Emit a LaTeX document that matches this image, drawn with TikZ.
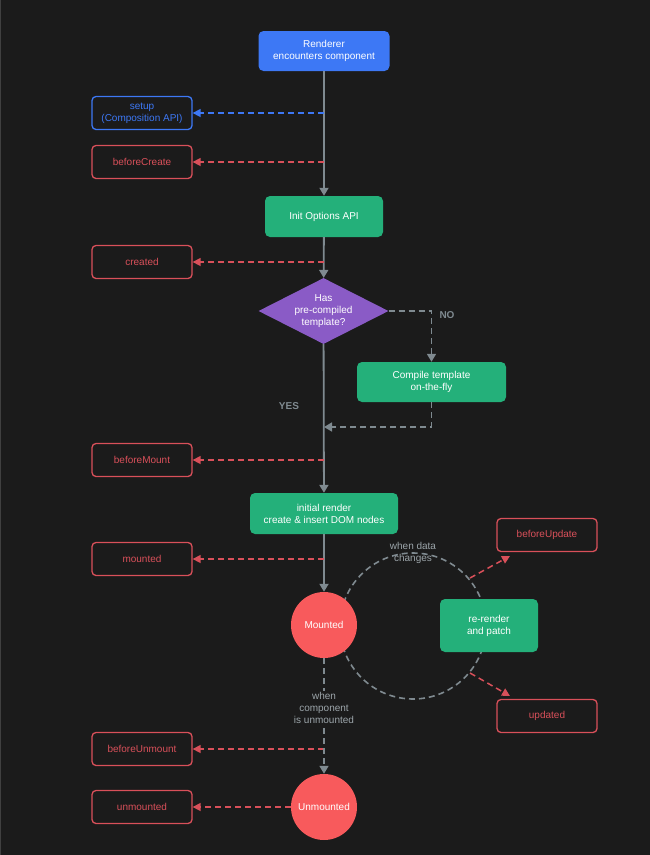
\documentclass[tikz,border=0pt]{standalone}
\usepackage{fontspec}
\setmainfont{Liberation Sans}
\usetikzlibrary{shapes.geometric,arrows.meta}
\definecolor{bg}{HTML}{1B1B1B}
\definecolor{lineg}{HTML}{7F8A90}
\definecolor{labelg}{HTML}{9CA5AA}
\definecolor{hookred}{HTML}{D9505A}
\definecolor{cred}{HTML}{F85A5C}
\definecolor{vgreen}{HTML}{24B07A}
\definecolor{vblue}{HTML}{3D78F5}
\definecolor{vpurple}{HTML}{8A5BC6}
\begin{document}
\begin{tikzpicture}[x=1pt,y=-1pt,
  every node/.style={font=\fontsize{10}{12}\selectfont, align=center},
  hook/.style={draw=hookred, line width=1.3pt, rounded corners=4pt, minimum width=100pt, minimum height=33pt, text=hookred, inner sep=0pt, fill=bg},
  proc/.style={fill=vgreen, rounded corners=5pt, text=white, inner sep=0pt},
  hcirc/.style={circle, fill=cred, minimum size=66pt, inner sep=0pt, text=white},
  mainline/.style={draw=lineg, line width=1.8pt},
  gtip/.style={-{Triangle[width=9pt,length=8pt]}},
  rtip/.style={-{Triangle[width=8pt,length=8pt]}},
  graydash/.style={draw=lineg, line width=1.6pt, dash pattern=on 6pt off 4pt},
  hookarrow/.style={draw=hookred, line width=1.5pt, dash pattern=on 6pt off 4pt, rtip},
  bluearrow/.style={draw=vblue, line width=1.5pt, dash pattern=on 6pt off 4pt, rtip},
  yesno/.style={text=lineg, font=\fontsize{10}{12}\selectfont\bfseries}
]
\fill[bg] (0,0) rectangle (650,855);
\useasboundingbox (0,0) rectangle (650,855);
\draw[line width=0.8pt, draw=black!75!white] (0.4,0) -- (0.4,855);

% update loop circle (drawn first, behind nodes)
\coordinate (loopc) at (413,626);
\draw[graydash] (loopc) circle (73pt);
\node[text=labelg] (whendata) at (413,552.5) {when data\\changes};

% nodes
\node[proc, fill=vblue, minimum width=131pt, minimum height=40pt] (renderer) at (324,51) {Renderer\\encounters component};
\node[hook, draw=vblue, text=vblue] (setup) at (142,113) {setup\\(Composition API)};
\node[hook] (bc) at (142,162) {beforeCreate};
\node[proc, minimum width=118pt, minimum height=41pt] (init) at (324,216.5) {Init Options API};
\node[hook] (created) at (142,262) {created};
\node[diamond, fill=vpurple, text=white, inner sep=0pt, aspect=1.97, minimum width=130pt, minimum height=66pt] (dec) at (323.5,311) {Has\\pre-compiled\\template?};
\node[proc, minimum width=149pt, minimum height=40pt] (compile) at (431.5,382) {Compile template\\on-the-fly};
\node[hook] (bm) at (142,460) {beforeMount};
\node[proc, minimum width=148pt, minimum height=41pt] (render) at (324,513.5) {initial render\\create \& insert DOM nodes};
\node[hook] (mounted) at (142,559) {mounted};
\node[hcirc] (mc) at (324,625) {Mounted};
\node[proc, minimum width=98pt, minimum height=53pt] (patch) at (489,625.5) {re-render\\and patch};
\node[hook] (bu) at (547,535) {beforeUpdate};
\node[hook] (upd) at (547,716) {updated};
\node[hook] (bum) at (142,749) {beforeUnmount};
\node[hcirc] (umc) at (324,807) {Unmounted};
\node[hook] (um) at (142,807) {unmounted};

% labels
\node[yesno] (no) at (447,315) {NO};
\node[yesno] (yes) at (289,406) {YES};

% coordinates on main line
\coordinate (h1) at (324,113);
\coordinate (h2) at (324,162);
\coordinate (h3) at (324,262);
\coordinate (h4) at (324,460);
\coordinate (h5) at (324,559);
\coordinate (h6) at (324,749);
\coordinate (join) at (324,427);

% main flow
\draw[mainline, gtip] (renderer) -- (init);
\draw[mainline, gtip] (init) -- (dec);
\draw[mainline, gtip] (dec) -- (render);
\draw[mainline, gtip] (render) -- (mc);

% NO branch
\draw[graydash, gtip] (dec.east) -| (compile.north);
\draw[graydash, gtip] (compile.south) |- (join);

% hooks
\draw[bluearrow] (h1) -- (setup);
\draw[hookarrow] (h2) -- (bc);
\draw[hookarrow] (h3) -- (created);
\draw[hookarrow] (h4) -- (bm);
\draw[hookarrow] (h5) -- (mounted);
\draw[hookarrow] (h6) -- (bum);
\draw[hookarrow] (umc) -- (um);

% update hooks
\coordinate (u1) at (470,578);
\coordinate (u1e) at (510,556);
\coordinate (u2) at (470,673);
\coordinate (u2e) at (510,696);
\draw[hookarrow] (u1) -- (u1e);
\draw[hookarrow] (u2) -- (u2e);

% unmount
\draw[graydash, gtip] (mc) -- (umc);
\node[fill=bg, text=labelg, inner sep=1pt] (whenun) at (324,708) {when\\component\\is unmounted};
\end{tikzpicture}
\end{document}
